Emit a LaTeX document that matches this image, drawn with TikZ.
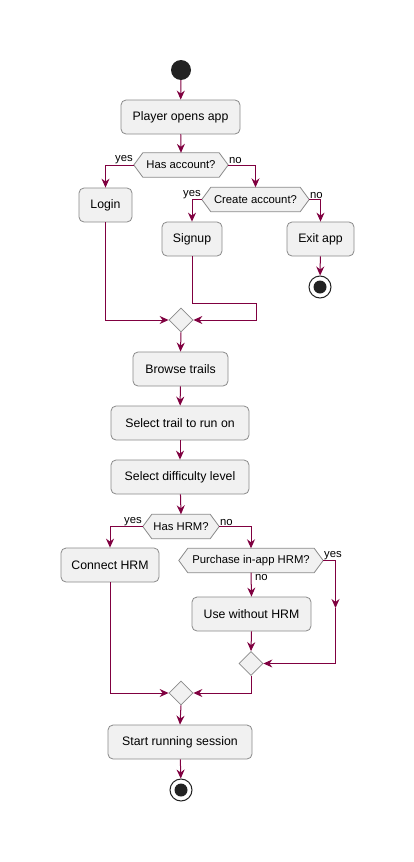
\documentclass[tikz,border=0pt]{standalone}
\usepackage{fontspec}
\setmainfont{Liberation Sans}
\usetikzlibrary{arrows.meta,shapes.geometric,backgrounds}
\definecolor{arr}{HTML}{800040}
\definecolor{boxfill}{HTML}{F1F1F1}
\definecolor{boxline}{HTML}{8A8A8A}
\definecolor{dotc}{HTML}{222222}
\tikzset{
  act/.style={rectangle, rounded corners=5pt, draw=boxline, fill=boxfill, line width=0.8pt,
    minimum height=34pt, inner sep=0pt, font=\fontsize{12.3}{14}\selectfont},
  hexn/.style={rectangle, inner sep=0pt, minimum height=24pt, font=\fontsize{11.3}{13}\selectfont},
  hexline/.style={draw=boxline, fill=boxfill, line width=0.8pt},
  merge/.style={diamond, draw=boxline, fill=boxfill, line width=0.8pt, minimum width=24pt,
    minimum height=24pt, inner sep=0pt},
  flow/.style={draw=arr, line width=1pt, -{Stealth[length=9pt,width=8pt,inset=3pt]}},
  flown/.style={draw=arr, line width=1pt},
  lbl/.style={inner sep=0.8pt, font=\fontsize{11.3}{13}\selectfont},
  startn/.style={circle, fill=dotc, minimum size=20pt, inner sep=0pt},
  endn/.style={circle, draw=dotc, fill=white, line width=1pt, minimum size=22pt, inner sep=0pt},
}
\newcommand\hexdraw[1]{\draw[hexline] (#1.west) -- ([xshift=9pt]#1.north west) -- ([xshift=-9pt]#1.north east) -- (#1.east) -- ([xshift=-9pt]#1.south east) -- ([xshift=9pt]#1.south west) -- cycle;}
\begin{document}
\begin{tikzpicture}[x=1pt,y=-1pt]
\useasboundingbox (0,0) rectangle (414,862);
\begin{scope}[on background layer]
\fill[white] (0,0) rectangle (414,862);
\end{scope}
% nodes
\node[startn] (start) at (181,70) {};
\node[act, minimum width=119pt] (open) at (180.5,117) {Player opens app};
\node[hexn, minimum width=94pt] (hasacc) at (181,165) {Has account?};
\node[act, minimum width=53pt] (login) at (105.5,205) {Login};
\node[hexn, minimum width=107pt] (create) at (255.5,199.5) {Create account?};
\node[act, minimum width=60pt] (signup) at (192,239) {Signup};
\node[act, minimum width=67pt] (exit) at (320.5,239) {Exit app};
\node[endn] (end1) at (320,287) {};
\fill[dotc] (end1.center) circle (6.5pt);
\node[merge] (m1) at (181,320) {};
\node[act, minimum width=95pt] (browse) at (180.5,369) {Browse trails};
\node[act, minimum width=138pt] (seltrail) at (180,423) {Select trail to run on};
\node[act, minimum width=138pt] (seldiff) at (180,477) {Select difficulty level};
\node[hexn, minimum width=76pt] (hashrm) at (181,526.5) {Has HRM?};
\node[act, minimum width=98pt] (connect) at (110,565) {Connect HRM};
\node[hexn, minimum width=144pt] (purchase) at (251,560.5) {Purchase in-app HRM?};
\node[act, minimum width=119pt] (without) at (251.5,614) {Use without HRM};
\node[merge] (m2) at (251,663.5) {};
\node[merge] (m3) at (181,693) {};
\node[act, minimum width=144pt] (run) at (180,742) {Start running session};
\node[endn] (end2) at (181,790) {};
\fill[dotc] (end2.center) circle (6.5pt);
% hexagon outlines
\begin{scope}[on background layer]
\hexdraw{hasacc}
\hexdraw{create}
\hexdraw{hashrm}
\hexdraw{purchase}
\end{scope}
% coordinates
\coordinate (sg1) at (192,303);
\coordinate (sg2) at (256,303);
\coordinate (sg3) at (256,320);
\coordinate (lg1) at (105.5,320);
\coordinate (py1) at (335.5,608);
\coordinate (py2) at (335.5,663.5);
\coordinate (ch1) at (110,693);
\coordinate (m2b) at (251,693);
% connectors
\draw[flow] (start) -- (open);
\draw[flow] (open) -- (hasacc.north);
\draw[flow] (hasacc.west) -| (login.north);
\draw[flow] (hasacc.east) -| (create.north);
\draw[flow] (create.west) -| (signup.north);
\draw[flow] (create.east) -| (exit.north);
\draw[flow] (exit) -- (end1);
\draw[flow] (login.south) -- (lg1) -- (m1.west);
\draw[flow] (signup.south) -- (sg1) -- (sg2) -- (sg3) -- (m1.east);
\draw[flow] (m1.south) -- (browse.north);
\draw[flow] (browse) -- (seltrail);
\draw[flow] (seltrail) -- (seldiff);
\draw[flow] (seldiff) -- (hashrm.north);
\draw[flow] (hashrm.west) -| (connect.north);
\draw[flow] (hashrm.east) -| (purchase.north);
\draw[flow] (purchase.south) -- (without.north);
\draw[flow] (purchase.east) -| (py1);
\draw[flow] (py1) -- (py2) -- (m2.east);
\draw[flow] (without.south) -- (m2.north);
\draw[flow] (connect.south) -- (ch1) -- (m3.west);
\draw[flow] (m2.south) -- (m2b) -- (m3.east);
\draw[flow] (m3.south) -- (run.north);
\draw[flow] (run) -- (end2);
% labels
\node[lbl, anchor=south east] (l1) at (hasacc.west) {yes};
\node[lbl, anchor=south west] (l2) at (hasacc.east) {no};
\node[lbl, anchor=south east] (l3) at (create.west) {yes};
\node[lbl, anchor=south west] (l4) at (create.east) {no};
\node[lbl, anchor=south east] (l5) at (hashrm.west) {yes};
\node[lbl, anchor=south west] (l6) at (hashrm.east) {no};
\node[lbl, anchor=south west] (l7) at (purchase.east) {yes};
\node[lbl, anchor=north west, xshift=3pt, yshift=-1pt] (l8) at (purchase.south) {no};
\end{tikzpicture}
\end{document}
